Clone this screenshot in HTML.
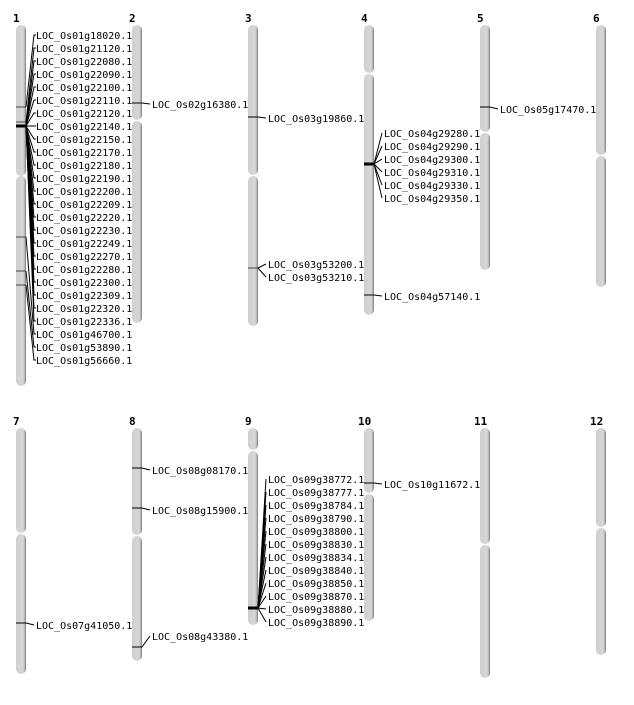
<!DOCTYPE html>
<html><head><meta charset="utf-8"><style>
html,body{margin:0;padding:0;background:#fff;}
svg text{font-family:"DejaVu Sans Mono","Liberation Mono",monospace;font-size:10px;fill:#000;}
svg text.n{font-family:"DejaVu Sans Mono","Liberation Mono",monospace;font-weight:bold;font-size:11px;}
</style></head><body>
<svg width="634" height="700" xmlns="http://www.w3.org/2000/svg">
<defs>
<linearGradient id="g" x1="0" x2="1" y1="0" y2="0">
<stop offset="0" stop-color="#d0d0d0"/><stop offset="0.7" stop-color="#d6d6d6"/><stop offset="0.85" stop-color="#bdbdbd"/><stop offset="1" stop-color="#777"/>
</linearGradient>
</defs>
<g fill="url(#g)">
<!-- row1 -->
<rect x="16" y="25" width="10" height="151" rx="5"/><rect x="16" y="176" width="10" height="210" rx="5"/>
<rect x="132" y="25" width="10" height="95" rx="5"/><rect x="132" y="121" width="10" height="202" rx="5"/>
<rect x="248" y="25" width="10" height="150" rx="5"/><rect x="248" y="176" width="10" height="150" rx="5"/>
<rect x="364" y="25" width="10" height="48" rx="5"/><rect x="364" y="74" width="10" height="241" rx="5"/>
<rect x="480" y="25" width="10" height="107" rx="5"/><rect x="480" y="133" width="10" height="137" rx="5"/>
<rect x="596" y="25" width="10" height="130" rx="5"/><rect x="596" y="156" width="10" height="131" rx="5"/>
<!-- row2 -->
<rect x="16" y="428" width="10" height="105" rx="5"/><rect x="16" y="534" width="10" height="140" rx="5"/>
<rect x="132" y="428" width="10" height="107" rx="5"/><rect x="132" y="536" width="10" height="125" rx="5"/>
<rect x="248" y="428" width="10" height="22" rx="5"/><rect x="248" y="451" width="10" height="174" rx="5"/>
<rect x="364" y="428" width="10" height="65" rx="5"/><rect x="364" y="494" width="10" height="127" rx="5"/>
<rect x="480" y="428" width="10" height="116" rx="5"/><rect x="480" y="545" width="10" height="133" rx="5"/>
<rect x="596" y="428" width="10" height="99" rx="5"/><rect x="596" y="528" width="10" height="127" rx="5"/>
</g>
<g>
<text class="n" x="13" y="22">1</text><text class="n" x="129" y="22">2</text><text class="n" x="245" y="22">3</text>
<text class="n" x="361" y="22">4</text><text class="n" x="477" y="22">5</text><text class="n" x="593" y="22">6</text>
<text class="n" x="13" y="425">7</text><text class="n" x="129" y="425">8</text><text class="n" x="245" y="425">9</text>
<text class="n" x="358" y="425">10</text><text class="n" x="474" y="425">11</text><text class="n" x="590" y="425">12</text>
</g>
<g stroke="#000" stroke-width="1" fill="none">
<!-- chr1 -->
<line x1="16" y1="107" x2="26" y2="107" stroke="#444"/>
<line x1="16" y1="122" x2="26" y2="122" stroke="#444"/>
<line x1="16" y1="126" x2="26" y2="126" stroke-width="3"/>
<line x1="16" y1="237" x2="26" y2="237" stroke="#444"/>
<line x1="16" y1="271" x2="26" y2="271" stroke="#444"/>
<line x1="16" y1="285" x2="26" y2="285" stroke="#444"/>
<polyline points="26,107 34,35 36,35"/>
<polyline points="26,122 34,48 36,48"/>
<polyline points="26,126 34,61 36,61"/><polyline points="26,126 34,74 36,74"/>
<polyline points="26,126 34,87 36,87"/><polyline points="26,126 34,100 36,100"/>
<polyline points="26,126 34,113 36,113"/><polyline points="26,126 34,126 36,126"/>
<polyline points="26,126 34,139 36,139"/><polyline points="26,126 34,152 36,152"/>
<polyline points="26,126 34,165 36,165"/><polyline points="26,126 34,178 36,178"/>
<polyline points="26,126 34,191 36,191"/><polyline points="26,126 34,204 36,204"/>
<polyline points="26,126 34,217 36,217"/><polyline points="26,126 34,230 36,230"/>
<polyline points="26,126 34,243 36,243"/><polyline points="26,126 34,256 36,256"/>
<polyline points="26,126 34,269 36,269"/><polyline points="26,126 34,282 36,282"/>
<polyline points="26,126 34,295 36,295"/><polyline points="26,126 34,308 36,308"/>
<polyline points="26,126 34,321 36,321"/>
<polyline points="26,237 34,334 36,334"/>
<polyline points="26,271 34,347 36,347"/>
<polyline points="26,285 34,360 36,360"/>
<!-- chr2 -->
<polyline points="132,103 142,103 150,104"/>
<!-- chr3 -->
<polyline points="248,117 258,117 266,118"/>
<line x1="248" y1="268" x2="258" y2="268" stroke="#444"/>
<polyline points="258,268 266,264"/><polyline points="258,268 266,277"/>
<!-- chr4 -->
<line x1="364" y1="164" x2="374" y2="164" stroke-width="3"/>
<polyline points="374,164 382,133"/><polyline points="374,164 382,146"/><polyline points="374,164 382,159"/>
<polyline points="374,164 382,172"/><polyline points="374,164 382,185"/><polyline points="374,164 382,198"/>
<polyline points="364,295 374,295 382,296"/>
<!-- chr5 -->
<polyline points="480,107 490,107 498,109"/>
<!-- chr7 -->
<polyline points="16,623 26,623 34,625"/>
<!-- chr8 -->
<polyline points="132,468 142,468 150,470"/>
<polyline points="132,508 142,508 150,510"/>
<polyline points="132,647 142,647 150,636"/>
<!-- chr9 -->
<line x1="248" y1="608" x2="258" y2="608" stroke-width="3"/>
<polyline points="258,608 266,479"/><polyline points="258,608 266,492"/><polyline points="258,608 266,505"/>
<polyline points="258,608 266,518"/><polyline points="258,608 266,531"/><polyline points="258,608 266,544"/>
<polyline points="258,608 266,557"/><polyline points="258,608 266,570"/><polyline points="258,608 266,583"/>
<polyline points="258,608 266,596"/><polyline points="258,608 266,609"/><polyline points="258,608 266,622"/>
<!-- chr10 -->
<polyline points="364,483 374,483 382,484"/>
</g>
<g>
<text x="36" y="39">LOC_Os01g18020.1</text><text x="36" y="52">LOC_Os01g21120.1</text>
<text x="36" y="65">LOC_Os01g22080.1</text><text x="36" y="78">LOC_Os01g22090.1</text>
<text x="36" y="91">LOC_Os01g22100.1</text><text x="36" y="104">LOC_Os01g22110.1</text>
<text x="36" y="117">LOC_Os01g22120.1</text><text x="36" y="130">LOC_Os01g22140.1</text>
<text x="36" y="143">LOC_Os01g22150.1</text><text x="36" y="156">LOC_Os01g22170.1</text>
<text x="36" y="169">LOC_Os01g22180.1</text><text x="36" y="182">LOC_Os01g22190.1</text>
<text x="36" y="195">LOC_Os01g22200.1</text><text x="36" y="208">LOC_Os01g22209.1</text>
<text x="36" y="221">LOC_Os01g22220.1</text><text x="36" y="234">LOC_Os01g22230.1</text>
<text x="36" y="247">LOC_Os01g22249.1</text><text x="36" y="260">LOC_Os01g22270.1</text>
<text x="36" y="273">LOC_Os01g22280.1</text><text x="36" y="286">LOC_Os01g22300.1</text>
<text x="36" y="299">LOC_Os01g22309.1</text><text x="36" y="312">LOC_Os01g22320.1</text>
<text x="36" y="325">LOC_Os01g22336.1</text><text x="36" y="338">LOC_Os01g46700.1</text>
<text x="36" y="351">LOC_Os01g53890.1</text><text x="36" y="364">LOC_Os01g56660.1</text>
<text x="152" y="108">LOC_Os02g16380.1</text>
<text x="268" y="122">LOC_Os03g19860.1</text>
<text x="268" y="268">LOC_Os03g53200.1</text><text x="268" y="281">LOC_Os03g53210.1</text>
<text x="384" y="137">LOC_Os04g29280.1</text><text x="384" y="150">LOC_Os04g29290.1</text>
<text x="384" y="163">LOC_Os04g29300.1</text><text x="384" y="176">LOC_Os04g29310.1</text>
<text x="384" y="189">LOC_Os04g29330.1</text><text x="384" y="202">LOC_Os04g29350.1</text>
<text x="384" y="300">LOC_Os04g57140.1</text>
<text x="500" y="113">LOC_Os05g17470.1</text>
<text x="36" y="629">LOC_Os07g41050.1</text>
<text x="152" y="474">LOC_Os08g08170.1</text><text x="152" y="514">LOC_Os08g15900.1</text>
<text x="152" y="640">LOC_Os08g43380.1</text>
<text x="268" y="483">LOC_Os09g38772.1</text><text x="268" y="496">LOC_Os09g38777.1</text>
<text x="268" y="509">LOC_Os09g38784.1</text><text x="268" y="522">LOC_Os09g38790.1</text>
<text x="268" y="535">LOC_Os09g38800.1</text><text x="268" y="548">LOC_Os09g38830.1</text>
<text x="268" y="561">LOC_Os09g38834.1</text><text x="268" y="574">LOC_Os09g38840.1</text>
<text x="268" y="587">LOC_Os09g38850.1</text><text x="268" y="600">LOC_Os09g38870.1</text>
<text x="268" y="613">LOC_Os09g38880.1</text><text x="268" y="626">LOC_Os09g38890.1</text>
<text x="384" y="488">LOC_Os10g11672.1</text>
</g>
</svg>
</body></html>
